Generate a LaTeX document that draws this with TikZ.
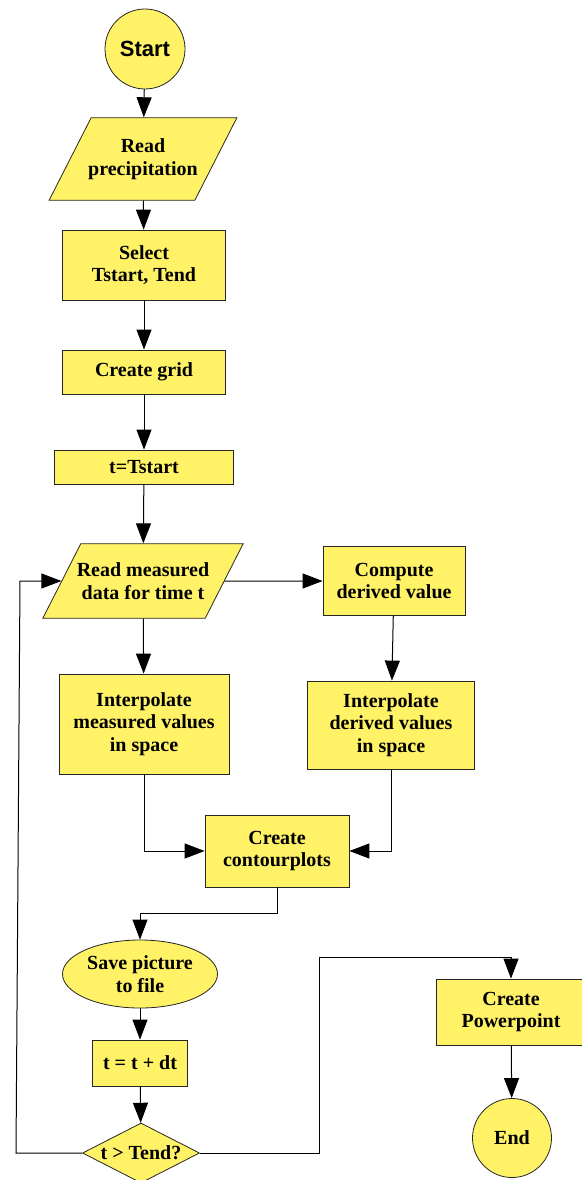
\documentclass[tikz,border=0pt]{standalone}
\usepackage{fontspec}
\setmainfont{Liberation Serif}
\newfontfamily\startfont{Liberation Sans}
\usetikzlibrary{shapes.geometric,arrows.meta,calc}
\definecolor{flowyellow}{RGB}{255,242,102}
\newcommand\flowfont{\fontsize{20}{22.5}\selectfont\bfseries}
\begin{document}
\begin{tikzpicture}[x=1pt, y=-1pt,
			every node/.style = {draw=black!85, fill=flowyellow, line width=0.8pt, align=center, font=\flowfont, inner sep=2pt},
			box/.style = {rectangle},
			io/.style = {trapezium, trapezium left angle=63, trapezium right angle=117, trapezium stretches body},
			term/.style = {circle},
			arr/.style = {draw=black, line width=1pt, -{Triangle[length=20pt,width=15pt,fill=black]}}]
			
			\useasboundingbox (0,0) rectangle (581,1180);
			
			\node[term, minimum size=80pt, font=\startfont\fontsize{22}{24}\selectfont\bfseries] (start) at (145,49) {Start};
			\node[io, inner xsep=-3pt, inner ysep=21pt] (readp) at (143,159) {Read\\precipitation};
			\node[box, minimum width=163pt, minimum height=70pt] (select) at (144,265) {Select\\Tstart, Tend};
			\node[box, minimum width=163pt, minimum height=44pt] (grid) at (144,372) {Create grid};
			\node[box, minimum width=179pt, minimum height=34pt] (tstart) at (144,467) {t=Tstart};
			\node[io, inner xsep=-4pt, inner ysep=19pt] (readm) at (143,581) {Read measured\\data for time t};
			\node[box, minimum width=142pt, minimum height=69pt] (compute) at (394,581) {Compute\\derived value};
			\node[box, minimum width=170pt, minimum height=100pt] (interpm) at (144,724) {Interpolate\\measured values\\in space};
			\node[box, minimum width=167pt, minimum height=88pt] (interpd) at (391,725) {Interpolate\\derived values\\in space};
			\node[box, minimum width=144pt, minimum height=72pt] (contour) at (277,851) {Create\\contourplots};
			\node[ellipse, minimum width=155pt, minimum height=68pt, inner sep=0pt] (save) at (140,974) {Save picture\\to file};
			\node[box, minimum width=95pt, minimum height=46pt] (tdt) at (140,1063) {t = t + dt};
			\node[diamond, aspect=2, minimum width=117pt, minimum height=60pt, inner sep=0pt] (test) at (141,1153) {t > Tend?};
			\node[box, minimum width=150pt, minimum height=66pt] (ppt) at (511,1012) {Create\\Powerpoint};
			\node[term, minimum size=79pt] (stop) at (512,1138) {End};
			
			\coordinate (loopb) at (16,1153);
			\coordinate (loopt) at (20,581);
			\coordinate (yes) at (319,957);
			
			\draw[arr] (start) -- (readp);
			\draw[arr] (readp) -- (select);
			\draw[arr] (select) -- (grid);
			\draw[arr] (grid) -- (tstart);
			\draw[arr] (tstart) -- (readm);
			\draw[arr] (readm.east) -- (compute.west);
			\draw[arr] (readm) -- (interpm);
			\draw[arr] (compute) -- (interpd);
			\draw[arr] (interpm.south) |- (contour.west);
			\draw[arr] (interpd.south) |- (contour.east);
			\draw[arr] (contour.south) |- ($(contour.south)!.5!(save.north)$) -| (save.north);
			\draw[arr] (save) -- (tdt);
			\draw[arr] (tdt) -- (test);
			\draw[arr] (test.west) -- (loopb) -- (loopt) -- (readm.west);
			\draw[arr] (test.east) -| (yes) -| (ppt.north);
			\draw[arr] (ppt) -- (stop);
			\end{tikzpicture}
\end{document}
